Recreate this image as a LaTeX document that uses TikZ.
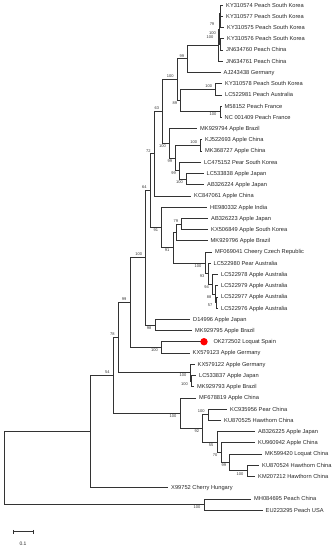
\documentclass[tikz,border=0pt]{standalone}
\usepackage{fontspec}
\setmainfont{Liberation Sans}
\begin{document}
\begin{tikzpicture}[x=1pt,y=-1pt,
  br/.style={line width=0.6pt, draw=black!80},
  leaf/.style={anchor=base west, inner sep=0pt, xshift=3pt, yshift=-2pt, font=\fontsize{5.7}{6}\selectfont, text=black!85},
  bsa/.style={anchor=south east, inner sep=0pt, xshift=-3.5pt, yshift=1.4pt, font=\fontsize{4}{4.5}\selectfont, text=black!80},
  bsb/.style={anchor=north east, inner sep=0pt, xshift=-3.5pt, yshift=-1.4pt, font=\fontsize{4}{4.5}\selectfont, text=black!80},
  bsc/.style={anchor=center, inner sep=0pt, font=\fontsize{4}{4.5}\selectfont, text=black!80}]
\useasboundingbox (0,0) rectangle (333,550);
% leaf tips
\coordinate (t1) at (223,5);
\coordinate (t2) at (223,16.2);
\coordinate (t3) at (224,27.4);
\coordinate (t4) at (224,38.7);
\coordinate (t5) at (223,49.9);
\coordinate (t6) at (223,61.1);
\coordinate (t7) at (220.5,72.3);
\coordinate (t8) at (222,83.6);
\coordinate (t9) at (222,94.8);
\coordinate (t10) at (221.5,106);
\coordinate (t11) at (221.5,117.2);
\coordinate (t12) at (197,128.4);
\coordinate (t13) at (202,139.7);
\coordinate (t14) at (202,150.9);
\coordinate (t15) at (201,162.1);
\coordinate (t16) at (203.5,173.3);
\coordinate (t17) at (204,184.6);
\coordinate (t18) at (191,195.8);
\coordinate (t19) at (207,207);
\coordinate (t20) at (208,218.2);
\coordinate (t21) at (208,229.4);
\coordinate (t22) at (207.5,240.7);
\coordinate (t23) at (212,251.9);
\coordinate (t24) at (210.5,263.1);
\coordinate (t25) at (218,274.3);
\coordinate (t26) at (218,285.5);
\coordinate (t27) at (218,296.8);
\coordinate (t28) at (218,308);
\coordinate (t29) at (190,319.2);
\coordinate (t30) at (192,330.4);
\coordinate (t31) at (204,341.7);
\coordinate (t32) at (189.5,352.9);
\coordinate (t33) at (194.5,364.1);
\coordinate (t34) at (196,375.3);
\coordinate (t35) at (194,386.6);
\coordinate (t36) at (196,397.8);
\coordinate (t37) at (227,409);
\coordinate (t38) at (221,420.2);
\coordinate (t39) at (255,431.4);
\coordinate (t40) at (255,442.7);
\coordinate (t41) at (262,453.9);
\coordinate (t42) at (259,465.1);
\coordinate (t43) at (255,476.3);
\coordinate (t44) at (168,487.6);
\coordinate (t45) at (251,498.8);
\coordinate (t46) at (262.5,510);
% internal nodes
\coordinate (nd) at (220.5,21.8);
\coordinate (nb) at (220,13.4);
\coordinate (nc) at (220.5,44.3);
\coordinate (na) at (219.5,28.85);
\coordinate (r1) at (218.5,45);
\coordinate (n99) at (187.7,58.65);
\coordinate (nky) at (215.7,89.2);
\coordinate (nm) at (220,111.6);
\coordinate (n89) at (180.7,100.4);
\coordinate (nB) at (177.3,79.5);
\coordinate (nE) at (200.7,145.3);
\coordinate (nG) at (186.5,179);
\coordinate (nF) at (179.5,170.5);
\coordinate (nD) at (175.7,157.9);
\coordinate (nC) at (169.5,143.2);
\coordinate (n63) at (162.7,111.3);
\coordinate (n72) at (154.3,153.6);
\coordinate (n79) at (181.7,223.8);
\coordinate (nZ) at (176,232.2);
\coordinate (n57) at (216,302.4);
\coordinate (n88) at (215,294);
\coordinate (n94) at (212.5,284.1);
\coordinate (n93) at (208,273.6);
\coordinate (nMF) at (205,262.8);
\coordinate (nY) at (173,247.5);
\coordinate (n91) at (161.7,227.2);
\coordinate (n64) at (150.3,190.4);
\coordinate (n98) at (155,324.8);
\coordinate (nP) at (145.7,257.6);
\coordinate (nOK) at (161.5,347.3);
\coordinate (nQ) at (130,302.5);
\coordinate (nT) at (191.5,381);
\coordinate (nS) at (190,372.5);
\coordinate (nR) at (118.3,337.5);
\coordinate (nK) at (247,470.7);
\coordinate (nX99) at (229.7,462.3);
\coordinate (nX70) at (221,452.5);
\coordinate (nX55) at (217,442);
\coordinate (nKC) at (208.3,414.6);
\coordinate (nW) at (202.7,428.3);
\coordinate (nV) at (180,413);
\coordinate (nU) at (113.3,375.3);
\coordinate (n90) at (90.7,431.4);
\coordinate (npe) at (204,504.4);
\coordinate (root) at (4,467.9);
% branches
\begin{scope}[br]
\draw (nd) |- (t2); \draw (nd) |- (t3);
\draw (nb) |- (t1); \draw (nb) |- (nd);
\draw (nc) |- (t4); \draw (nc) |- (t5);
\draw (na) |- (nb); \draw (na) |- (nc);
\draw (r1) |- (na); \draw (r1) |- (t6);
\draw (n99) |- (r1); \draw (n99) |- (t7);
\draw (nky) |- (t8); \draw (nky) |- (t9);
\draw (nm) |- (t10); \draw (nm) |- (t11);
\draw (n89) |- (nky); \draw (n89) |- (nm);
\draw (nB) |- (n99); \draw (nB) |- (n89);
\draw (nE) |- (t13); \draw (nE) |- (t14);
\draw (nG) |- (t16); \draw (nG) |- (t17);
\draw (nF) |- (t15); \draw (nF) |- (nG);
\draw (nD) |- (nE); \draw (nD) |- (nF);
\draw (nC) |- (t12); \draw (nC) |- (nD);
\draw (n63) |- (nB); \draw (n63) |- (nC);
\draw (n72) |- (n63); \draw (n72) |- (t18);
\draw (n79) |- (t20); \draw (n79) |- (t21);
\draw (nZ) |- (n79); \draw (nZ) |- (t22);
\draw (n57) |- (t27); \draw (n57) |- (t28);
\draw (n88) |- (t26); \draw (n88) |- (n57);
\draw (n94) |- (t25); \draw (n94) |- (n88);
\draw (n93) |- (t24); \draw (n93) |- (n94);
\draw (nMF) |- (t23); \draw (nMF) |- (n93);
\draw (nY) |- (nZ); \draw (nY) |- (nMF);
\draw (n91) |- (t19); \draw (n91) |- (nY);
\draw (n64) |- (n72); \draw (n64) |- (n91);
\draw (n98) |- (t29); \draw (n98) |- (t30);
\draw (nP) |- (n64); \draw (nP) |- (n98);
\draw (nOK) |- (t31); \draw (nOK) |- (t32);
\draw (nQ) |- (nP); \draw (nQ) |- (nOK);
\draw (nT) |- (t34); \draw (nT) |- (t35);
\draw (nS) |- (t33); \draw (nS) |- (nT);
\draw (nR) |- (nQ); \draw (nR) |- (nS);
\draw (nK) |- (t42); \draw (nK) |- (t43);
\draw (nX99) |- (t41); \draw (nX99) |- (nK);
\draw (nX70) |- (t40); \draw (nX70) |- (nX99);
\draw (nX55) |- (t39); \draw (nX55) |- (nX70);
\draw (nKC) |- (t37); \draw (nKC) |- (t38);
\draw (nW) |- (nKC); \draw (nW) |- (nX55);
\draw (nV) |- (t36); \draw (nV) |- (nW);
\draw (nU) |- (nR); \draw (nU) |- (nV);
\draw (n90) |- (nU); \draw (n90) |- (t44);
\draw (npe) |- (t45); \draw (npe) |- (t46);
\draw (root) |- (n90); \draw (root) |- (npe);
\end{scope}
% red marker
\fill[red] (t31) circle (3.7);
% leaf labels
\node[leaf] (l1) at (t1) {KY310574 Peach South Korea};
\node[leaf] (l2) at (t2) {KY310577 Peach South Korea};
\node[leaf] (l3) at (t3) {KY310575 Peach South Korea};
\node[leaf] (l4) at (t4) {KY310576 Peach South Korea};
\node[leaf] (l5) at (t5) {JN634760 Peach China};
\node[leaf] (l6) at (t6) {JN634761 Peach China};
\node[leaf] (l7) at (t7) {AJ243438 Germany};
\node[leaf] (l8) at (t8) {KY310578 Peach South Korea};
\node[leaf] (l9) at (t9) {LC522981 Peach Australia};
\node[leaf] (l10) at (t10) {M58152 Peach France};
\node[leaf] (l11) at (t11) {NC 001409 Peach France};
\node[leaf] (l12) at (t12) {MK929794 Apple Brazil};
\node[leaf] (l13) at (t13) {KJ522693 Apple China};
\node[leaf] (l14) at (t14) {MK368727 Apple China};
\node[leaf] (l15) at (t15) {LC475152 Pear South Korea};
\node[leaf] (l16) at (t16) {LC533838 Apple Japan};
\node[leaf] (l17) at (t17) {AB326224 Apple Japan};
\node[leaf] (l18) at (t18) {KC847061 Apple China};
\node[leaf] (l19) at (t19) {HE980332 Apple India};
\node[leaf] (l20) at (t20) {AB326223 Apple Japan};
\node[leaf] (l21) at (t21) {KX506849 Apple South Korea};
\node[leaf] (l22) at (t22) {MK929796 Apple Brazil};
\node[leaf] (l23) at (t23) {MF069041 Cheery Czech Republic};
\node[leaf] (l24) at (t24) {LC522980 Pear Australia};
\node[leaf] (l25) at (t25) {LC522978 Apple Australia};
\node[leaf] (l26) at (t26) {LC522979 Apple Australia};
\node[leaf] (l27) at (t27) {LC522977 Apple Australia};
\node[leaf] (l28) at (t28) {LC522976 Apple Australia};
\node[leaf] (l29) at (t29) {D14996 Apple Japan};
\node[leaf] (l30) at (t30) {MK929795 Apple Brazil};
\node[leaf, xshift=6.3pt] (l31) at (t31) {OK272502 Loquat Spain};
\node[leaf] (l32) at (t32) {KX579123 Apple Germany};
\node[leaf] (l33) at (t33) {KX579122 Apple Germany};
\node[leaf] (l34) at (t34) {LC533837 Apple Japan};
\node[leaf] (l35) at (t35) {MK929793 Apple Brazil};
\node[leaf] (l36) at (t36) {MF678819 Apple China};
\node[leaf] (l37) at (t37) {KC935956 Pear China};
\node[leaf] (l38) at (t38) {KU870525 Hawthorn China};
\node[leaf] (l39) at (t39) {AB326225 Apple Japan};
\node[leaf] (l40) at (t40) {KU960942 Apple China};
\node[leaf] (l41) at (t41) {MK599420 Loquat China};
\node[leaf] (l42) at (t42) {KU870524 Hawthorn China};
\node[leaf] (l43) at (t43) {KM207212 Hawthorn China};
\node[leaf] (l44) at (t44) {X99752 Cherry Hungary};
\node[leaf] (l45) at (t45) {MH084695 Peach China};
\node[leaf] (l46) at (t46) {EU223295 Peach USA};
% bootstrap values
\node[bsc] (s1) at (212,24.5) {79};
\node[bsc] (s2) at (212.5,33) {100};
\node[bsc] (s3) at (210,37.5) {100};
\node[bsa] (sB) at (nB) {100};
\node[bsa] (s99) at (n99) {99};
\node[bsb] (s89) at (n89) {89};
\node[bsa] (sky) at (nky) {100};
\node[bsb] (sm) at (nm) {100};
\node[bsa] (s63) at (n63) {63};
\node[bsb] (sC) at (nC) {100};
\node[bsb] (sD) at (nD) {99};
\node[bsb] (sF) at (nF) {99};
\node[bsb] (sG) at (nG) {100};
\node[bsa] (sE) at (nE) {100};
\node[bsa] (s72) at (n72) {72};
\node[bsa] (s64) at (n64) {64};
\node[bsb] (s91) at (n91) {91};
\node[bsa] (s79) at (n79) {79};
\node[bsb] (sY) at (nY) {91};
\node[bsb] (sMF) at (nMF) {100};
\node[bsb] (s93) at (n93) {93};
\node[bsb] (s94) at (n94) {94};
\node[bsb] (s88) at (n88) {88};
\node[bsb] (s57) at (n57) {57};
\node[bsa] (sP) at (nP) {100};
\node[bsa] (sQ) at (nQ) {99};
\node[bsb] (s98) at (n98) {98};
\node[bsb] (sOK) at (nOK) {100};
\node[bsa] (sR) at (nR) {78};
\node[bsb] (sS) at (nS) {100};
\node[bsb] (sT) at (nT) {100};
\node[bsa] (sU) at (nU) {54};
\node[bsb] (sV) at (nV) {100};
\node[bsa] (sKC) at (nKC) {100};
\node[bsb] (sW) at (nW) {92};
\node[bsb] (sX55) at (nX55) {55};
\node[bsb] (sX70) at (nX70) {70};
\node[bsb] (sX99) at (nX99) {99};
\node[bsb] (sK) at (nK) {100};
\node[bsb] (spe) at (npe) {100};
% scale bar
\coordinate (sb1) at (13,531.7);
\coordinate (sb2) at (33,531.7);
\draw[br] (sb1) -- (sb2);
\draw[br] ([yshift=1.8pt]sb1) -- ([yshift=-1.8pt]sb1);
\draw[br] ([yshift=1.8pt]sb2) -- ([yshift=-1.8pt]sb2);
\node[inner sep=0pt, font=\fontsize{5}{6}\selectfont, text=black!85] (sbl) at (23,544) {0.1};
\end{tikzpicture}
\end{document}
